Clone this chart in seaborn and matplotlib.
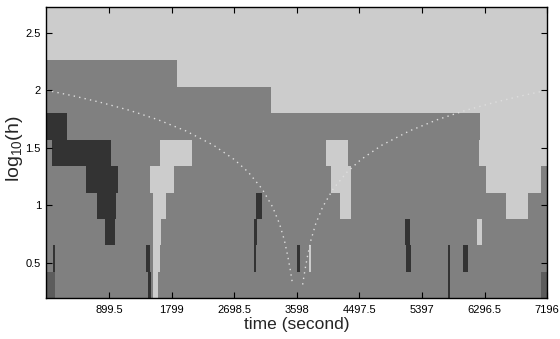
import numpy as np
import pandas as pd
import matplotlib
matplotlib.use("Agg")
import matplotlib.pyplot as plt
from matplotlib.colors import ListedColormap, BoundaryNorm
import seaborn as sns

# ---- data -------------------------------------------------------------
T_MAX = 7196
# scale bins (log10 h), 11 rows from bottom to top
row_edges = [0.19, 0.42, 0.65, 0.88, 1.11, 1.34, 1.57, 1.80, 2.03, 2.26, 2.49, 2.72]

# class colours: 0 = darkest, 1 = dark grey, 2 = mid grey (background), 3 = light
class_colors = ["#333333", "#5c5c5c", "#808080", "#cccccc"]
background_class = 2

# (start, end, class) segments for each row, bottom row first
row_segments = [
    [(0, 122, 1), (1461, 1504, 0), (1533, 1600, 3), (5778, 5803, 0), (7102, 7196, 1)],
    [(94, 122, 0), (1432, 1490, 0), (1537, 1633, 3), (2986, 3015, 0), (3605, 3648, 0),
     (3778, 3807, 3), (5174, 5246, 0), (5778, 5803, 0), (5980, 6052, 0)],
    [(842, 986, 0), (1537, 1648, 3), (2986, 3030, 0), (5160, 5232, 0), (6195, 6267, 3)],
    [(727, 1000, 0), (1537, 1720, 3), (3015, 3101, 0), (4224, 4383, 3), (6599, 6915, 3)],
    [(568, 1029, 0), (1490, 1835, 3), (4095, 4383, 3), (6311, 7102, 3)],
    [(75, 924, 0), (1633, 2094, 3), (4023, 4339, 3), (6210, 7196, 3)],
    [(0, 295, 0), (6225, 7196, 3)],
    [(3231, 7196, 3)],
    [(1874, 7196, 3)],
    [(0, 7196, 3)],
    [(0, 7196, 3)],
]

# cone of influence (two branches)
coi_left_t = [0, 400, 800, 1200, 1600, 2000, 2400, 2700, 2900, 3100, 3250, 3350, 3420, 3470, 3505, 3538]
coi_left_y = [2.000, 1.949, 1.891, 1.824, 1.744, 1.647, 1.522, 1.397, 1.288, 1.141, 0.985, 0.838,
              0.694, 0.551, 0.435, 0.310]
coi_right_t = [3682, 3715, 3750, 3800, 3870, 3970, 4120, 4320, 4520, 4820, 5220, 5620, 6020, 6420, 6810, 7196]
coi_right_y = [0.310, 0.435, 0.551, 0.694, 0.838, 0.985, 1.141, 1.288, 1.397, 1.522, 1.647, 1.744,
               1.824, 1.891, 1.949, 2.000]

x_ticks = [899.5, 1799, 2698.5, 3598, 4497.5, 5397, 6296.5, 7196]
x_tick_labels = ["899.5", "1799", "2698.5", "3598", "4497.5", "5397", "6296.5", "7196"]
y_ticks = [0.5, 1, 1.5, 2, 2.5]
y_tick_labels = ["0.5", "1", "1.5", "2", "2.5"]

# ---- build the class grid -------------------------------------------
bounds = {0, T_MAX}
for segs in row_segments:
    for s, e, _ in segs:
        bounds.update((s, e))
t_edges = np.array(sorted(bounds), dtype=float)
t_mid = 0.5 * (t_edges[:-1] + t_edges[1:])
Z = np.full((len(row_segments), len(t_mid)), background_class, dtype=float)
for i, segs in enumerate(row_segments):
    for s, e, c in segs:
        Z[i, (t_mid > s) & (t_mid < e)] = c

# ---- plot -----------------------------------------------------------
sns.set_style("ticks")
plt.rcParams["font.family"] = ["Liberation Sans", "DejaVu Sans"]
plt.rcParams["mathtext.default"] = "regular"

fig = plt.figure(figsize=(5.6, 3.39), dpi=100)
ax = fig.add_axes([0.083, 0.12, 0.894, 0.858])
ax.set_axisbelow(False)

cmap = ListedColormap(class_colors)
norm = BoundaryNorm([-0.5, 0.5, 1.5, 2.5, 3.5], cmap.N)
ax.pcolormesh(t_edges, row_edges, Z, cmap=cmap, norm=norm, shading="flat",
              antialiased=False, edgecolors="none")

coi = pd.concat([
    pd.DataFrame({"t": coi_left_t, "y": coi_left_y, "branch": "left"}),
    pd.DataFrame({"t": coi_right_t, "y": coi_right_y, "branch": "right"}),
])
sns.lineplot(data=coi, x="t", y="y", units="branch", estimator=None, sort=False,
             ax=ax, color="#dedede", linewidth=1.0, linestyle=(0, (1, 3)), legend=False)

ax.set_xlim(0, T_MAX)
ax.set_ylim(row_edges[0], row_edges[-1])
ax.set_xticks(x_ticks)
ax.set_xticklabels(x_tick_labels)
ax.set_yticks(y_ticks)
ax.set_yticklabels(y_tick_labels)
ax.tick_params(direction="in", top=True, right=True, length=4, width=0.8,
               labelsize=8, color="black", labelcolor="black")
ax.tick_params(axis="x", pad=5)
ax.tick_params(axis="y", pad=4)
for sp in ax.spines.values():
    sp.set_linewidth(1.0)
    sp.set_color("black")
    sp.set_zorder(5)

ax.set_xlabel("time (second)", fontsize=12.5, labelpad=1)
ax.set_ylabel("log$_{10}$(h)", fontsize=14)
ax.yaxis.set_label_coords(-0.042, 0.515)

fig.savefig("out.png", dpi=100)
